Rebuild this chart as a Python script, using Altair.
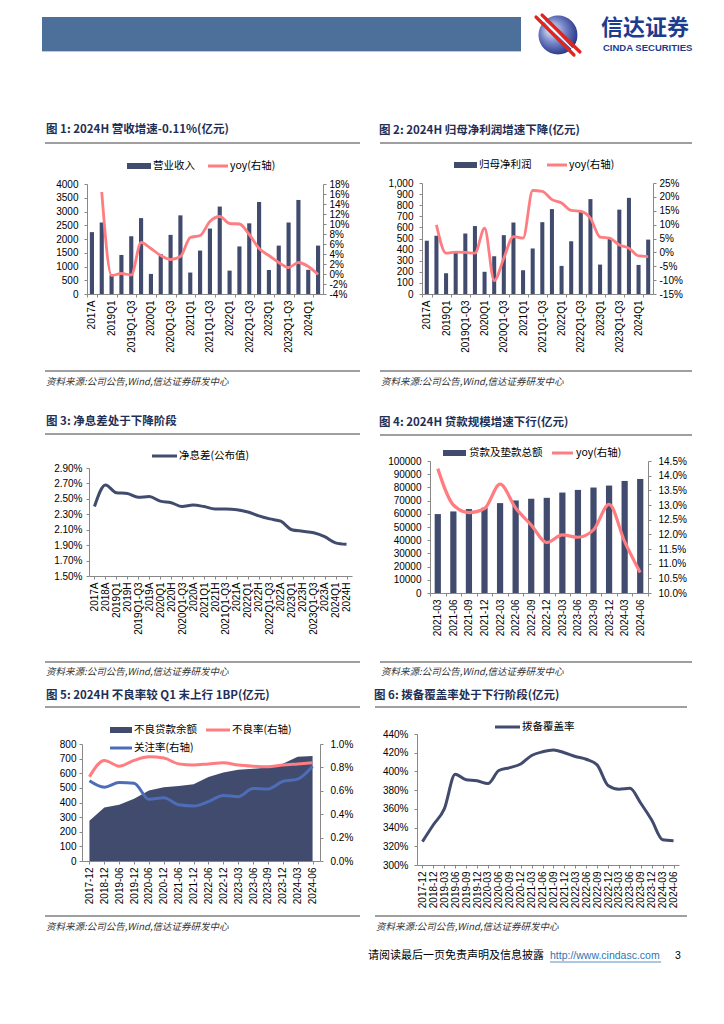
import math
import altair as alt
import pandas as pd

# ---------------- data ----------------
periods = ["2017A", "2018A", "2019Q1", "2019H", "2019Q1-Q3", "2019A", "2020Q1", "2020H",
           "2020Q1-Q3", "2020A", "2021Q1", "2021H", "2021Q1-Q3", "2021A", "2022Q1", "2022H",
           "2022Q1-Q3", "2022A", "2023Q1", "2023H", "2023Q1-Q3", "2023A", "2024Q1", "2024H"]
revenue = [2250, 2600, 680, 1420, 2100, 2760, 730, 1450, 2150, 2860, 780, 1580,
           2380, 3180, 850, 1730, 2570, 3345, 870, 1760, 2600, 3420, 880, 1760]
revenue_yoy = [16.4, -0.3, 0.1, -0.2, 6.3, 5.1, 3.7, 2.9, 3.5, 7.3, 7.7, 10.5,
               11.5, 10.1, 10.0, 7.9, 5.1, 3.7, 2.3, 1.3, 2.3, 1.5, -0.11]   # from 2018A
profit = [480, 525, 187, 370, 545, 612, 200, 340, 530, 644, 214, 410,
          647, 765, 253, 475, 740, 855, 265, 500, 760, 866, 262, 490]
profit_yoy = [9.9, -0.3, 0.1, 0.0, -0.3, 8.7, -10.2, -2.1, 5.7, 5.1, 22.3, 22.0,
              19.0, 17.8, 15.1, 14.8, 12.3, 5.5, 5.1, 2.7, 1.5, -1.3, -1.5]  # from 2018A
nim = [2.40, 2.68, 2.58, 2.57, 2.52, 2.53, 2.47, 2.45, 2.40, 2.42, 2.40, 2.37,
       2.37, 2.36, 2.33, 2.28, 2.24, 2.21, 2.10, 2.08, 2.06, 2.01, 1.93, 1.91]
loan_quarters = ["2021-03", "2021-06", "2021-09", "2021-12", "2022-03", "2022-06", "2022-09",
                 "2022-12", "2023-03", "2023-06", "2023-09", "2023-12", "2024-03", "2024-06"]
loans = [59800, 61800, 63600, 64600, 68100, 70100, 71400, 72100, 76100, 78100, 79900,
         81400, 84900, 86400]
loans_yoy = [14.24, 13.00, 12.74, 12.88, 13.71, 12.90, 12.32, 11.72, 11.98, 11.90, 12.15,
             13.02, 11.75, 10.70]
npl_dates = ["2017-12", "2018-12", "2019-06", "2019-12", "2020-06", "2020-12", "2021-06",
             "2021-12", "2022-06", "2022-12", "2023-03", "2023-06", "2023-09", "2023-12",
             "2024-03", "2024-06"]
npl_balance = [275, 365, 385, 425, 482, 505, 512, 525, 575, 605, 624, 631, 640, 665, 713, 718]
npl_ratio = [0.72, 0.86, 0.81, 0.86, 0.89, 0.88, 0.83, 0.82, 0.83, 0.84, 0.82, 0.81, 0.805,
             0.82, 0.83, 0.84]
sm_ratio = [0.685, 0.63, 0.67, 0.665, 0.527, 0.54, 0.48, 0.47, 0.507, 0.56, 0.55, 0.62,
            0.616, 0.68, 0.70, 0.81]
pcr_dates = ["2017-12", "2018-12", "2019-03", "2019-06", "2019-09", "2019-12", "2020-03",
             "2020-06", "2020-09", "2020-12", "2021-03", "2021-06", "2021-09", "2021-12",
             "2022-03", "2022-06", "2022-09", "2022-12", "2023-03", "2023-06", "2023-09",
             "2023-12", "2024-03", "2024-06"]
pcr = [325, 343, 360, 397, 391, 390, 387, 401, 404, 408, 417, 421,
       423, 420, 416, 413, 407, 385, 381, 382, 366, 348, 327, 326]

# tick values
p1_left_ticks = [0, 500, 1000, 1500, 2000, 2500, 3000, 3500, 4000]
p1_right_ticks = [-4, -2, 0, 2, 4, 6, 8, 10, 12, 14, 16, 18]
p2_left_ticks = [0, 100, 200, 300, 400, 500, 600, 700, 800, 900, 1000]
p2_right_ticks = [-15, -10, -5, 0, 5, 10, 15, 20, 25]
p3_ticks = [1.5, 1.7, 1.9, 2.1, 2.3, 2.5, 2.7, 2.9]
p4_left_ticks = [0, 10000, 20000, 30000, 40000, 50000, 60000, 70000, 80000, 90000, 100000]
p4_right_ticks = [10.0, 10.5, 11.0, 11.5, 12.0, 12.5, 13.0, 13.5, 14.0, 14.5]
p5_left_ticks = [0, 100, 200, 300, 400, 500, 600, 700, 800]
p5_right_ticks = [0.0, 0.2, 0.4, 0.6, 0.8, 1.0]
p6_ticks = [300, 320, 340, 360, 380, 400, 420, 440]

titles = ["图 1: 2024H 营收增速-0.11%(亿元)",
          "图 2: 2024H 归母净利润增速下降(亿元)",
          "图 3: 净息差处于下降阶段",
          "图 4: 2024H 贷款规模增速下行(亿元)",
          "图 5: 2024H 不良率较 Q1 末上行 1BP(亿元)",
          "图 6: 拨备覆盖率处于下行阶段(亿元)"]
source_text = "资料来源:公司公告,Wind,信达证券研发中心"

# ---------------- style ----------------
NAVY = "#414B6E"
PINK = "#FF7C80"
BLUE = "#4E6DB8"
TITLE_C = "#1F2F56"
GREY = "#888888"
LAT = "Liberation Sans"
CJK = "Noto Sans CJK SC"
RIGHT = 704   # right edge of the page content


class Cell:
    """A cell whose view covers the whole region [bx0,bx1]x[by0,by1] of the page;
    the plot area sits at (px, py) with size (W, H) inside it."""

    def __init__(self, bounds, plot=None):
        self.bx0, self.bx1, self.by0, self.by1 = bounds
        self.Wc = self.bx1 - self.bx0
        self.Hc = self.by1 - self.by0
        if plot is not None:
            px, py, W, H = plot
            self.x0 = px - self.bx0
            self.x1 = self.x0 + W
            self.y0 = py - self.by0
            self.y1 = self.y0 + H

    def xr(self):
        return [self.x0, self.x1]

    def yr(self):
        return [self.y1, self.y0]

    def off(self, orient):
        if orient == "left":
            return -self.x0
        if orient == "right":
            return self.x1 - self.Wc
        return self.y1 - self.Hc  # bottom

    def deco(self, items):
        ox, oy = self.bx0, self.by0
        out = []
        for it in items:
            kind = it[0]
            if kind == "text":
                _, s, x, y, size, kw = it
                out.append(
                    alt.Chart(pd.DataFrame({"t": [s]}))
                    .mark_text(align=kw.get("align", "left"), baseline="middle", fontSize=size,
                               font=kw.get("font", CJK), fontWeight=kw.get("weight", "normal"),
                               fontStyle=kw.get("style", "normal"),
                               color=kw.get("color", "#000000"))
                    .encode(x=alt.value(x - ox), y=alt.value(y - oy), text="t:N"))
            elif kind == "rule":
                _, x0, x1, y, color, w = it
                out.append(
                    alt.Chart(pd.DataFrame({"t": [0]}))
                    .mark_rule(color=color, strokeWidth=w)
                    .encode(x=alt.value(x0 - ox), x2=alt.value(x1 - ox), y=alt.value(y - oy)))
            elif kind == "seg":
                _, x0, y0, x1, y1, color, w = it
                out.append(
                    alt.Chart(pd.DataFrame({"t": [0]}))
                    .mark_rule(color=color, strokeWidth=w, strokeCap="round")
                    .encode(x=alt.value(x0 - ox), x2=alt.value(x1 - ox),
                            y=alt.value(y0 - oy), y2=alt.value(y1 - oy)))
            elif kind == "rect":
                _, x0, x1, y0, y1, color, op = it
                out.append(
                    alt.Chart(pd.DataFrame({"t": [0]}))
                    .mark_rect(color=color, opacity=op)
                    .encode(x=alt.value(x0 - ox), x2=alt.value(x1 - ox),
                            y=alt.value(y0 - oy), y2=alt.value(y1 - oy)))
            elif kind == "circle":
                _, cx, cy, r, fill = it
                out.append(
                    alt.Chart(pd.DataFrame({"t": [0]}))
                    .mark_point(shape="circle", filled=True, size=math.pi * r * r, fill=fill,
                                opacity=1, strokeWidth=0)
                    .encode(x=alt.value(cx - ox), y=alt.value(cy - oy)))
        return out

    def build(self, data_layers, items):
        layers = self.deco([("rect", self.bx0, self.bx1, self.by0, self.by1, "#ffffff", 0)])
        layers += data_layers
        layers += self.deco(items)
        ch = alt.layer(*layers)
        if len(data_layers) > 1:
            ch = ch.resolve_scale(y="independent")
        return ch.properties(width=self.Wc, height=self.Hc)


def common_items(title, tx, ty, r0, r1, ry, sry, sy):
    return [
        ("text", title, tx - 2, ty, 11.5, {"weight": "bold", "color": TITLE_C}),
        ("rule", r0, r1, ry, "#7F7F7F", 1.5),
        ("rule", r0, r1, sry, "#7F7F7F", 1.5),
        ("text", source_text, r0 + 1, sy, 9.5, {"style": "italic", "color": "#333333"}),
    ]


def yenc(cell, values, domain, orient, fmt=None, expr=None, pad=4):
    kw = dict(values=values, orient=orient, title=None, labelPadding=pad,
              offset=cell.off(orient))
    if fmt is not None:
        kw["format"] = fmt
    if expr is not None:
        kw["labelExpr"] = expr
    return alt.Y("v:Q", scale=alt.Scale(domain=domain, range=cell.yr(), nice=False, zero=False),
                 axis=alt.Axis(**kw))


def band_x(cell, domain, label_values):
    return alt.X("cat:N", sort=domain,
                 scale=alt.Scale(type="band", domain=domain, range=cell.xr(),
                                 paddingInner=0, paddingOuter=0),
                 axis=alt.Axis(values=label_values, labelAngle=-90, title=None,
                               tickBand="extent", labelPadding=3, offset=cell.off("bottom")))


def point_x(cell, domain):
    return alt.X("cat:N", sort=domain,
                 scale=alt.Scale(type="point", domain=domain, range=cell.xr(), padding=0.5),
                 axis=alt.Axis(values=domain, labelAngle=-90, title=None, labelPadding=3,
                               offset=cell.off("bottom")))


# ---------------- panel 1 ----------------
c1 = Cell((8, 362, 100, 395), (82, 184, 236, 110))
x1 = band_x(c1, periods, periods[::2])
p1_bars = alt.Chart(pd.DataFrame({"cat": periods, "v": revenue})).mark_bar(
    color=NAVY, width=alt.RelativeBandSize(0.42)).encode(
    x=x1, y=yenc(c1, p1_left_ticks, [0, 4000], "left", fmt="d", pad=6))
p1_line = alt.Chart(pd.DataFrame({"cat": periods[1:], "v": revenue_yoy})).mark_line(
    color=PINK, strokeWidth=2.8, interpolate="monotone").encode(
    x=x1, y=yenc(c1, p1_right_ticks, [-4, 18], "right", expr="datum.value + '%'", pad=3))
p1_items = common_items(titles[0], 43, 130, 40, 355, 143, 371, 382) + [
    ("rect", 122, 146, 163, 169, NAVY, 1),
    ("text", "营业收入", 148, 166, 10.5, {}),
    ("rule", 203, 223, 166, PINK, 3),
    ("text", "yoy(右轴)", 225, 166, 10.5, {}),
]
panel1 = c1.build([p1_bars, p1_line], p1_items)

# ---------------- panel 2 ----------------
c2 = Cell((362, RIGHT, 100, 395), (412, 183, 231, 111))
x2 = band_x(c2, periods, periods[::2])
p2_bars = alt.Chart(pd.DataFrame({"cat": periods, "v": profit})).mark_bar(
    color=NAVY, width=alt.RelativeBandSize(0.42)).encode(
    x=x2, y=yenc(c2, p2_left_ticks, [0, 1000], "left", fmt=",d", pad=6))
p2_line = alt.Chart(pd.DataFrame({"cat": periods[1:], "v": profit_yoy})).mark_line(
    color=PINK, strokeWidth=2.8, interpolate="monotone").encode(
    x=x2, y=yenc(c2, p2_right_ticks, [-15, 25], "right", expr="datum.value + '%'", pad=3))
p2_items = common_items(titles[1], 371, 131, 370, 682, 143, 371, 382) + [
    ("rect", 444, 467, 162, 168, NAVY, 1),
    ("text", "归母净利润", 469, 165, 10.5, {}),
    ("rule", 537, 557, 165, PINK, 3),
    ("text", "yoy(右轴)", 559, 165, 10.5, {}),
]
panel2 = c2.build([p2_bars, p2_line], p2_items)

# ---------------- panel 3 ----------------
c3 = Cell((8, 362, 395, 685), (84, 468, 263, 108))
p3_line = alt.Chart(pd.DataFrame({"cat": periods, "v": nim})).mark_line(
    color=NAVY, strokeWidth=3, interpolate="monotone").encode(
    x=point_x(c3, periods),
    y=yenc(c3, p3_ticks, [1.5, 2.9], "left", expr="format(datum.value, '.2f') + '%'", pad=4))
p3_items = common_items(titles[2], 43, 422, 40, 355, 434, 662, 672) + [
    ("rule", 147, 172, 456, NAVY, 3),
    ("text", "净息差(公布值)", 174, 456, 10.5, {}),
]
panel3 = c3.build([p3_line], p3_items)

# ---------------- panel 4 ----------------
c4 = Cell((362, RIGHT, 395, 685), (420, 461, 218, 132))
x4 = band_x(c4, loan_quarters, loan_quarters)
p4_bars = alt.Chart(pd.DataFrame({"cat": loan_quarters, "v": loans})).mark_bar(
    color=NAVY, width=alt.RelativeBandSize(0.4)).encode(
    x=x4, y=yenc(c4, p4_left_ticks, [0, 100000], "left", fmt="d", pad=6))
p4_line = alt.Chart(pd.DataFrame({"cat": loan_quarters, "v": loans_yoy})).mark_line(
    color=PINK, strokeWidth=3.2, interpolate="monotone").encode(
    x=x4, y=yenc(c4, p4_right_ticks, [10.0, 14.5], "right",
                 expr="format(datum.value, '.1f') + '%'", pad=7))
p4_items = common_items(titles[3], 371, 423, 370, 682, 435, 662, 672) + [
    ("rect", 433, 456, 450, 456, NAVY, 1),
    ("text", "贷款及垫款总额", 459, 453, 10.5, {}),
    ("rule", 542, 563, 453, PINK, 3),
    ("text", "yoy(右轴)", 566, 453, 10.5, {}),
]
panel4 = c4.build([p4_bars, p4_line], p4_items)

# ---------------- panel 5 ----------------
c5 = Cell((8, 362, 685, 940), (77, 744, 238, 117))
x5 = point_x(c5, npl_dates)
p5_area = alt.Chart(pd.DataFrame({"cat": npl_dates, "v": npl_balance})).mark_area(
    color=NAVY, opacity=1).encode(
    x=x5, y=yenc(c5, p5_left_ticks, [0, 800], "left", fmt="d", pad=3))
p5_long = pd.DataFrame({
    "cat": npl_dates + npl_dates,
    "v": npl_ratio + sm_ratio,
    "s": ["不良率(右轴)"] * len(npl_dates) + ["关注率(右轴)"] * len(npl_dates),
})
p5_lines = alt.Chart(p5_long).mark_line(strokeWidth=3, interpolate="monotone").encode(
    x=x5,
    y=yenc(c5, p5_right_ticks, [0, 1.0], "right", expr="format(datum.value, '.1f') + '%'", pad=7),
    color=alt.Color("s:N", scale=alt.Scale(domain=["不良率(右轴)", "关注率(右轴)"],
                                           range=[PINK, BLUE]), legend=None))
p5_items = common_items(titles[4], 43, 696, 40, 355, 707, 916, 927) + [
    ("rect", 105, 127, 727, 733, NAVY, 1),
    ("text", "不良贷款余额", 129, 730, 10.5, {}),
    ("rule", 201, 225, 730, PINK, 3),
    ("text", "不良率(右轴)", 227, 730, 10.5, {}),
    ("rule", 105, 127, 748, BLUE, 3),
    ("text", "关注率(右轴)", 129, 748, 10.5, {}),
]
panel5 = c5.build([p5_area, p5_lines], p5_items)

# ---------------- panel 6 ----------------
c6 = Cell((362, RIGHT, 685, 940), (412, 734, 262, 131))
p6_line = alt.Chart(pd.DataFrame({"cat": pcr_dates, "v": pcr})).mark_line(
    color=NAVY, strokeWidth=3, interpolate="monotone").encode(
    x=point_x(c6, pcr_dates),
    y=yenc(c6, p6_ticks, [300, 440], "left", expr="datum.value + '%'", pad=6))
p6_items = common_items(titles[5], 371, 696, 370, 682, 707, 916, 927) + [
    ("rule", 490, 515, 727, NAVY, 3),
    ("text", "拨备覆盖率", 517, 727, 10.5, {}),
]
panel6 = c6.build([p6_line], p6_items)

# ---------------- header & footer ----------------
sphere = {"gradient": "radial", "x1": 0.3, "y1": 0.35, "r1": 0.0,
          "x2": 0.45, "y2": 0.45, "r2": 0.65,
          "stops": [{"offset": 0, "color": "#F2F4FB"}, {"offset": 0.45, "color": "#7C8BCB"},
                    {"offset": 1, "color": "#15237A"}]}
header_items = [
    ("rect", 37, 516, 17, 51, "#4C7099", 1),
    ("rule", 37, 516, 51.5, "#B8C9E0", 1),
    ("circle", 553, 35, 22, sphere),
    ("seg", 531, 17, 569, 55, "#E1251B", 3.2),
    ("seg", 537, 15, 575, 52, "#E1251B", 3.2),
    ("seg", 534, 16, 572, 53.5, "#FFFFFF", 1.2),
    ("text", "信达证券", 596, 28, 22, {"weight": "bold", "color": "#1D3C8F"}),
    ("text", "CINDA SECURITIES", 598, 47.5, 9.5, {"weight": "bold", "color": "#1D3C8F", "font": LAT}),
]
header = Cell((8, RIGHT, 8, 100)).build([], header_items)

footer_items = [
    ("text", "请阅读最后一页免责声明及信息披露", 363, 956, 11, {}),
    ("text", "http://www.cindasc.com", 545, 956, 10.5, {"font": LAT, "color": "#2E74B5"}),
    ("rule", 545, 656, 962, "#2E74B5", 0.8),
    ("text", "3", 670, 956, 10.5, {"font": LAT}),
]
footer = Cell((8, RIGHT, 940, 975)).build([], footer_items)

row1 = alt.hconcat(panel1, panel2, spacing=0)
row2 = alt.hconcat(panel3, panel4, spacing=0)
row3 = alt.hconcat(panel5, panel6, spacing=0)

chart = alt.vconcat(header, row1, row2, row3, footer, spacing=0).properties(
    padding=0
).configure_view(strokeWidth=0, fill="#ffffff").configure_axis(
    domainColor=GREY, tickColor=GREY, labelColor="#000000", labelFont=LAT,
    labelFontSize=10, tickSize=3, grid=False, labelOverlap=False, domainWidth=1, tickWidth=1
)

chart.save("out.html", embed_options={"renderer": "svg", "actions": False})
